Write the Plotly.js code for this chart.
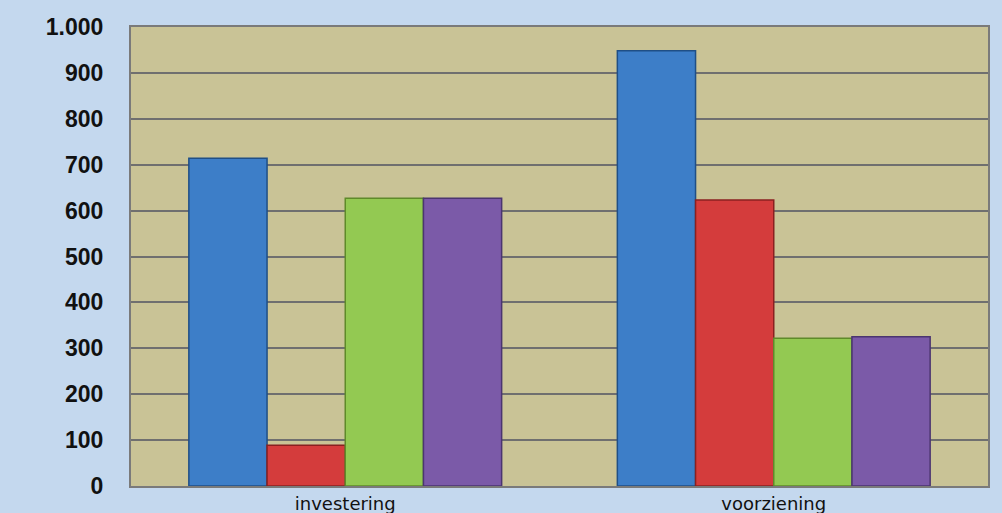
<!DOCTYPE html>
<html>
<head>
<meta charset="utf-8">
<script src="https://cdn.plot.ly/plotly-3.0.1.min.js"></script>
<style>
html,body{margin:0;padding:0;background:#c4d8ee;}
#chart{width:1002px;height:513px;}
</style>
</head>
<body>
<div id="chart"></div>
<script>
const categories = ["investering", "voorziening"];
const series1 = [714, 948];
const series2 = [89, 623];
const series3 = [627, 322];
const series4 = [627, 325];
const seriesColors = ["#3d7ec8", "#d43c3c", "#93c952", "#7b5aa8"];
const seriesEdges = ["#1f4f86", "#8a2020", "#5f8a2a", "#4b3570"];
const allSeries = [series1, series2, series3, series4];

const traces = allSeries.map((vals, i) => ({
  type: "bar",
  x: categories,
  y: vals,
  marker: {color: seriesColors[i], line: {color: seriesEdges[i], width: 1.5}},
  hoverinfo: "skip"
}));

const layout = {
  width: 1002, height: 513,
  paper_bgcolor: "#c4d8ee",
  plot_bgcolor: "#c9c396",
  margin: {l: 131, r: 14, t: 27, b: 27},
  showlegend: false,
  barmode: "group",
  bargap: 0.27,
  bargroupgap: 0,
  separators: ",.",
  font: {family: "Liberation Sans, Arial, sans-serif", color: "#111"},
  xaxis: {
    showgrid: false, zeroline: false,
    showline: true, linecolor: "#7a7a7a", linewidth: 2, mirror: true,
    tickfont: {size: 18, color: "#111", family: "DejaVu Sans, sans-serif"},
    ticks: "", ticklabelstandoff: 0
  },
  yaxis: {
    range: [0, 1000],
    tickvals: [0,100,200,300,400,500,600,700,800,900,1000],
    tickformat: ",d",
    showgrid: true, gridcolor: "#6f6f6f", gridwidth: 2,
    zeroline: false,
    showline: true, linecolor: "#7a7a7a", linewidth: 2, mirror: true,
    tickfont: {size: 23, color: "#111", weight: "bold"},
    ticks: "", ticklen: 0, ticklabelstandoff: 21
  }
};

Plotly.newPlot("chart", traces, layout, {displayModeBar: false, staticPlot: true});
</script>
</body>
</html>
